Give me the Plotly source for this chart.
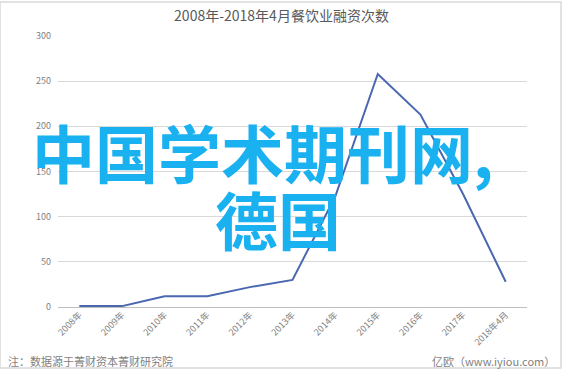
import plotly.graph_objects as go

categories = ["2008年", "2009年", "2010年", "2011年", "2012年", "2013年",
              "2014年", "2015年", "2016年", "2017年", "2018年4月"]
values = [1, 1, 12, 12, 22, 30, 122, 258, 213, 125, 28]
y_ticks = [0, 50, 100, 150, 200, 250, 300]

title_text = "2008年-2018年4月餐饮业融资次数"
note_left = "注：数据源于菁财资本菁财研究院"
note_right = "亿欧（www.iyiou.com）"
overlay_line1 = "中国学术期刊网,"
overlay_line2 = "德国"

FONT = "Noto Sans CJK SC"

fig = go.Figure()
fig.add_trace(go.Scatter(
    x=categories, y=values, mode="lines",
    line=dict(color="#4A67B0", width=2),
    hoverinfo="skip", showlegend=False,
))

fig.update_layout(
    width=563, height=370,
    margin=dict(l=58, r=36, t=36, b=63),
    paper_bgcolor="white", plot_bgcolor="white",
    font=dict(family=FONT, color="#7f7f7f", size=9),
    title=dict(text=title_text, x=0.5, xanchor="center", y=0.957, yanchor="middle",
               font=dict(family=FONT, size=14, color="#595959")),
    xaxis=dict(type="category", tickangle=-45, showgrid=False, zeroline=False,
               showline=False, ticks="", tickfont=dict(size=9, color="#7f7f7f"),
               range=[-0.5, len(categories) - 0.5]),
    yaxis=dict(range=[0, 300], tickvals=y_ticks, showgrid=True, gridcolor="#d9d9d9",
               gridwidth=1, zeroline=True, zerolinecolor="#bfbfbf", zerolinewidth=1,
               showline=False, ticks="", ticklabelstandoff=6,
               tickfont=dict(size=9, color="#7f7f7f")),
)

fig.add_annotation(text=note_left, xref="paper", yref="paper", x=-0.06, y=-0.2,
                   xanchor="left", yanchor="middle", showarrow=False, xshift=-24,
                   font=dict(family=FONT, size=11, color="#7f7f7f"))
fig.add_annotation(text=note_right, xref="paper", yref="paper", x=1.0, y=-0.2,
                   xanchor="right", yanchor="middle", showarrow=False, xshift=30,
                   font=dict(family=FONT, size=11, color="#7f7f7f"))

fig.add_annotation(text="<b>" + overlay_line1 + "</b>", xref="paper", yref="paper",
                   x=0.5, y=0.56, xanchor="center", yanchor="middle", showarrow=False,
                   xshift=-30, yshift=5,
                   font=dict(family=FONT, size=63, color="#1AB1F0"))
fig.add_annotation(text="<b>" + overlay_line2 + "</b>", xref="paper", yref="paper",
                   x=0.5, y=0.31, xanchor="center", yanchor="middle", showarrow=False,
                   xshift=-15, yshift=5,
                   font=dict(family=FONT, size=63, color="#1AB1F0"))

fig.add_shape(type="rect", xref="paper", yref="paper",
              x0=-58/469, x1=1 + 34/469, y0=-61/271, y1=1 + 34/271,
              line=dict(color="#d9d9d9", width=1.5), fillcolor="rgba(0,0,0,0)")

fig.write_html("out.html")
